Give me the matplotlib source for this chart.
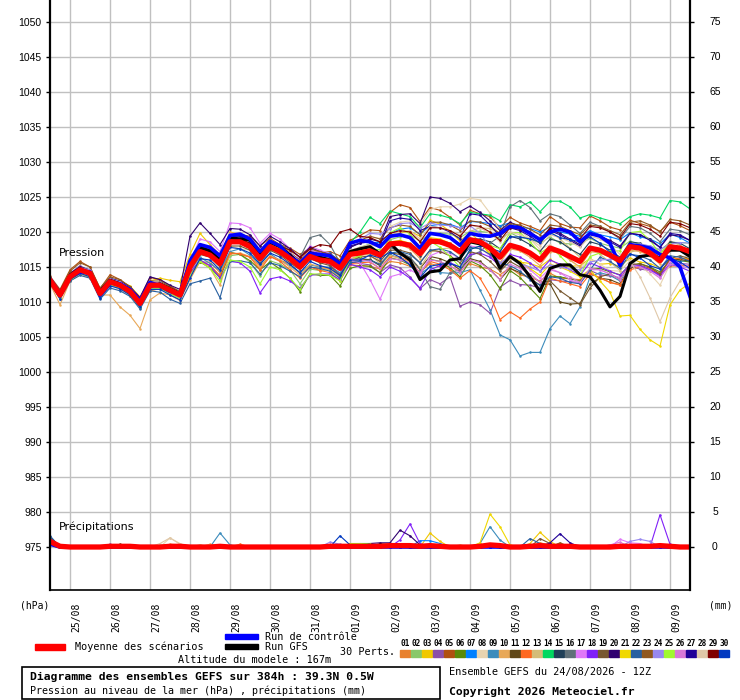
import numpy as np
import matplotlib
matplotlib.use('Agg')
import matplotlib.pyplot as plt
from matplotlib import transforms
from matplotlib.patches import Rectangle

# 6-hourly steps of the 384h run (24/08 12Z)
hours = np.arange(0, 385, 6)
day_labels = ['25/08', '26/08', '27/08', '28/08', '29/08', '30/08', '31/08', '01/09',
              '02/09', '03/09', '04/09', '05/09', '06/09', '07/09', '08/09', '09/09']
day_hours = np.arange(12, 384, 24)

mean_hpa = [1013.1, 1011.0, 1013.6, 1014.6, 1014.1, 1011.2, 1012.9, 1012.4, 1011.5, 1009.8, 1012.4, 1012.4, 1011.7, 1011.0,
            1015.0, 1017.2, 1016.7, 1015.5, 1018.6, 1018.6, 1017.9, 1016.2, 1017.9, 1017.2, 1016.2, 1015.0, 1016.5, 1016.0, 1015.8, 1014.8,
            1016.8, 1017.0, 1017.3, 1016.7, 1018.3, 1018.4, 1018.1, 1016.9, 1018.7, 1018.6, 1018.1, 1017.2, 1018.9, 1018.6, 1017.7, 1016.4,
            1018.1, 1017.7, 1017.0, 1016.0, 1017.7, 1017.2, 1016.5, 1015.8, 1017.7, 1017.4, 1016.7, 1015.9, 1017.9, 1017.7, 1017.0, 1015.9,
            1017.9, 1017.7, 1017.2]
control_hpa = [1013.3, 1011.1, 1013.5, 1014.3, 1014.3, 1011.0, 1012.7, 1012.6, 1011.8, 1010.2, 1012.8, 1012.3, 1011.5, 1011.2,
               1015.9, 1018.2, 1017.8, 1016.6, 1019.5, 1019.7, 1019.0, 1017.2, 1018.7, 1018.0, 1016.4, 1015.6, 1016.9, 1016.8, 1016.6, 1015.4,
               1018.4, 1018.8, 1018.6, 1017.9, 1019.4, 1019.6, 1019.2, 1017.7, 1019.8, 1019.6, 1019.2, 1018.1, 1019.8, 1019.5, 1019.4, 1019.8,
               1020.8, 1020.6, 1019.8, 1018.9, 1020.0, 1020.4, 1020.0, 1018.6, 1019.8, 1019.4, 1018.4, 1015.2, 1018.2, 1018.0, 1017.7, 1016.8,
               1016.3, 1015.0, 1010.8]
gfs_hpa = [1013.0, 1011.2, 1013.8, 1014.8, 1014.0, 1011.5, 1013.1, 1012.6, 1011.6, 1010.2, 1012.2, 1012.6, 1011.9, 1011.2,
           1015.6, 1017.8, 1017.3, 1016.0, 1019.2, 1019.0, 1018.9, 1016.8, 1018.5, 1017.9, 1016.7, 1015.4, 1017.0, 1016.4, 1016.0, 1015.3,
           1017.2, 1017.6, 1017.9, 1016.9, 1018.4, 1017.0, 1016.0, 1013.2, 1014.3, 1014.5, 1016.0, 1016.2, 1018.6, 1018.3, 1017.7, 1014.8,
           1016.5, 1015.5, 1013.6, 1011.5, 1014.8, 1015.3, 1015.3, 1013.9, 1013.6, 1011.7, 1009.3, 1010.8, 1015.5, 1016.5, 1016.7, 1016.3,
           1017.4, 1017.4, 1016.5]

pert01 = [1012.8, 1010.8, 1013.1, 1014.2, 1013.5, 1010.9, 1012.4, 1012.2, 1010.9, 1009.4, 1011.6, 1011.9, 1011.4, 1010.6,
          1013.8, 1015.7, 1015.7, 1014.2, 1017.0, 1016.8, 1016.4, 1015.2, 1016.5, 1016.0, 1015.4, 1014.0, 1015.0, 1014.7, 1014.8, 1013.6,
          1015.3, 1015.2, 1015.1, 1014.7, 1015.8, 1015.6, 1015.1, 1014.3, 1015.5, 1015.1, 1015.1, 1014.4, 1015.5, 1015.0, 1014.7, 1013.9,
          1014.9, 1013.9, 1013.5, 1013.0, 1014.1, 1013.4, 1013.3, 1013.2, 1014.2, 1013.4, 1012.8, 1012.4, 1014.9, 1015.1, 1014.8, 1013.9,
          1015.1, 1015.2, 1015.2]
pert02 = [1013.3, 1011.3, 1013.7, 1015.0, 1014.1, 1011.5, 1013.4, 1012.6, 1011.9, 1010.4, 1012.6, 1012.7, 1012.2, 1011.4,
          1014.2, 1016.0, 1015.2, 1013.7, 1016.6, 1016.8, 1015.7, 1013.7, 1015.9, 1015.4, 1014.6, 1012.6, 1014.7, 1014.5, 1014.6, 1013.8,
          1017.3, 1017.8, 1018.3, 1017.9, 1018.9, 1019.3, 1019.6, 1018.7, 1019.7, 1019.8, 1019.7, 1019.2, 1020.1, 1020.1, 1019.9, 1019.0,
          1019.9, 1019.2, 1019.0, 1018.4, 1019.3, 1018.4, 1018.3, 1018.3, 1019.1, 1018.4, 1018.0, 1017.7, 1018.7, 1018.2, 1018.0, 1017.4,
          1018.5, 1018.5, 1018.4]
pert03 = [1013.1, 1011.2, 1013.5, 1014.8, 1014.4, 1011.2, 1013.0, 1013.0, 1012.3, 1010.7, 1013.0, 1013.4, 1013.1, 1012.9,
          1016.8, 1019.8, 1018.2, 1016.7, 1020.0, 1019.6, 1018.7, 1017.4, 1018.4, 1018.0, 1017.2, 1015.6, 1016.8, 1016.5, 1016.6, 1015.2,
          1017.3, 1017.0, 1016.8, 1016.5, 1019.3, 1019.9, 1020.1, 1019.4, 1021.7, 1021.1, 1020.1, 1018.7, 1019.9, 1018.6, 1016.7, 1014.9,
          1016.3, 1015.7, 1015.5, 1015.0, 1016.1, 1015.2, 1015.1, 1015.2, 1016.2, 1015.4, 1015.5, 1015.1, 1016.3, 1015.7, 1015.5, 1014.9,
          1016.1, 1016.2, 1016.2]
pert04 = [1013.5, 1011.3, 1014.1, 1015.2, 1014.4, 1011.7, 1013.1, 1012.8, 1011.6, 1010.3, 1012.7, 1012.4, 1011.9, 1011.3,
          1014.5, 1017.0, 1016.7, 1015.9, 1018.9, 1019.4, 1018.4, 1016.2, 1018.5, 1017.5, 1016.0, 1015.2, 1016.2, 1016.0, 1015.3, 1014.0,
          1015.8, 1015.5, 1015.3, 1014.2, 1015.3, 1014.9, 1013.6, 1011.9, 1013.2, 1012.6, 1013.6, 1009.4, 1010.0, 1009.6, 1008.4, 1012.1,
          1013.1, 1012.5, 1012.4, 1012.0, 1013.2, 1013.0, 1012.9, 1012.8, 1014.5, 1013.9, 1013.7, 1013.5, 1015.1, 1014.7, 1014.5, 1013.9,
          1015.3, 1015.5, 1015.4]
pert05 = [1013.7, 1011.8, 1014.6, 1015.8, 1015.0, 1011.9, 1013.9, 1013.2, 1012.1, 1010.7, 1013.5, 1013.2, 1012.3, 1011.5,
          1015.5, 1018.0, 1017.7, 1016.7, 1019.4, 1019.6, 1019.4, 1018.0, 1019.1, 1018.2, 1017.7, 1016.8, 1017.7, 1017.0, 1017.2, 1016.6,
          1018.8, 1019.5, 1020.3, 1020.2, 1022.8, 1023.9, 1023.5, 1021.5, 1023.5, 1023.1, 1022.1, 1021.0, 1023.1, 1022.6, 1022.2, 1020.6,
          1022.1, 1021.3, 1020.8, 1020.2, 1022.2, 1021.2, 1020.7, 1020.6, 1022.3, 1021.6, 1020.7, 1020.3, 1021.7, 1021.2, 1020.8, 1020.1,
          1021.4, 1020.9, 1020.2]
pert06 = [1012.9, 1010.6, 1013.3, 1014.0, 1013.9, 1010.7, 1012.6, 1012.0, 1011.3, 1009.2, 1012.0, 1012.2, 1011.2, 1010.7,
          1014.0, 1015.7, 1014.9, 1013.5, 1017.1, 1016.8, 1015.9, 1014.6, 1015.7, 1014.7, 1013.4, 1011.5, 1014.0, 1013.8, 1013.8, 1012.3,
          1014.8, 1015.2, 1015.1, 1014.2, 1016.3, 1016.0, 1015.3, 1013.9, 1016.1, 1015.8, 1014.9, 1013.6, 1015.9, 1015.2, 1013.9, 1011.9,
          1014.5, 1013.5, 1012.0, 1010.5, 1013.7, 1013.6, 1013.3, 1013.0, 1014.7, 1014.8, 1014.3, 1013.9, 1015.3, 1015.5, 1015.0, 1014.3,
          1015.9, 1015.9, 1015.7]
pert07 = [1013.1, 1011.2, 1013.4, 1014.6, 1014.3, 1011.1, 1012.9, 1012.6, 1011.4, 1009.9, 1012.4, 1012.2, 1011.7, 1011.1,
          1015.2, 1017.7, 1017.5, 1016.1, 1019.6, 1019.4, 1018.4, 1017.1, 1018.5, 1017.6, 1017.0, 1016.0, 1017.0, 1016.8, 1017.0, 1015.8,
          1017.8, 1018.5, 1018.5, 1018.5, 1019.8, 1020.4, 1020.6, 1019.7, 1020.9, 1021.1, 1021.1, 1020.6, 1021.5, 1021.4, 1021.2, 1020.9,
          1021.3, 1020.7, 1020.5, 1020.0, 1020.7, 1020.0, 1019.7, 1019.4, 1020.2, 1019.6, 1019.3, 1018.9, 1019.9, 1019.3, 1019.0, 1018.3,
          1019.7, 1019.2, 1018.4]
pert08 = [1012.7, 1010.8, 1013.0, 1014.1, 1013.8, 1010.6, 1012.5, 1011.7, 1011.0, 1009.5, 1011.8, 1012.0, 1011.1, 1010.5,
          1014.5, 1016.2, 1015.9, 1015.1, 1018.0, 1017.6, 1017.4, 1016.2, 1017.6, 1016.6, 1016.0, 1015.3, 1016.3, 1016.0, 1016.2, 1015.6,
          1017.8, 1018.5, 1019.3, 1019.1, 1020.8, 1021.4, 1021.6, 1020.9, 1023.2, 1023.6, 1023.6, 1024.0, 1024.8, 1024.6, 1022.7, 1020.2,
          1021.1, 1020.2, 1019.0, 1017.5, 1018.2, 1017.2, 1016.0, 1014.8, 1016.2, 1015.4, 1014.5, 1014.4, 1015.9, 1015.2, 1014.0, 1012.4,
          1015.4, 1016.2, 1016.7]
pert09 = [1012.8, 1010.5, 1013.4, 1014.2, 1013.5, 1010.9, 1012.7, 1011.9, 1011.2, 1009.7, 1012.0, 1012.1, 1011.2, 1010.8,
          1014.5, 1016.4, 1015.5, 1014.5, 1017.2, 1017.6, 1016.7, 1015.4, 1016.9, 1015.9, 1015.2, 1014.2, 1015.3, 1015.0, 1015.0, 1014.2,
          1016.0, 1016.3, 1016.0, 1015.2, 1016.8, 1016.2, 1015.5, 1014.0, 1015.0, 1014.2, 1014.1, 1014.2, 1014.6, 1011.7, 1008.9, 1005.3,
          1004.6, 1002.3, 1002.8, 1002.8, 1006.2, 1008.0, 1006.9, 1009.3, 1013.6, 1014.2, 1013.8, 1013.0, 1015.2, 1015.0, 1014.6, 1013.8,
          1015.5, 1015.8, 1016.0]
pert10 = [1012.6, 1009.6, 1013.0, 1014.0, 1013.5, 1011.0, 1011.0, 1009.3, 1008.1, 1006.2, 1010.3, 1011.3, 1011.0, 1010.2,
          1013.2, 1015.8, 1014.8, 1012.4, 1016.8, 1017.0, 1016.5, 1014.9, 1016.6, 1016.0, 1015.0, 1013.8, 1015.4, 1015.1, 1014.6, 1013.4,
          1016.2, 1016.6, 1016.9, 1016.0, 1017.9, 1018.2, 1017.6, 1016.2, 1018.4, 1018.5, 1017.8, 1016.7, 1018.6, 1018.5, 1017.4, 1015.6,
          1017.6, 1017.3, 1016.4, 1015.2, 1017.2, 1017.0, 1016.0, 1015.0, 1017.2, 1017.0, 1016.4, 1015.4, 1017.4, 1017.2, 1016.6, 1015.4,
          1017.5, 1017.6, 1017.0]
pert11 = [1013.4, 1011.2, 1013.9, 1014.8, 1014.5, 1011.4, 1013.3, 1012.7, 1011.8, 1010.0, 1012.7, 1012.8, 1011.9, 1011.3,
          1015.0, 1017.0, 1016.8, 1015.8, 1018.5, 1018.8, 1018.2, 1016.5, 1018.0, 1017.4, 1016.4, 1015.2, 1016.8, 1016.2, 1015.9, 1014.9,
          1016.0, 1016.0, 1016.1, 1015.2, 1017.0, 1016.8, 1016.3, 1014.8, 1016.5, 1016.2, 1015.6, 1014.6, 1016.2, 1015.8, 1014.6, 1013.2,
          1014.8, 1014.2, 1013.4, 1012.4, 1012.6, 1010.0, 1009.7, 1009.8, 1012.6, 1013.4, 1013.2, 1012.6, 1014.9, 1015.2, 1014.8, 1013.8,
          1016.0, 1016.1, 1015.8]
pert12 = [1013.0, 1011.1, 1013.4, 1014.5, 1014.0, 1011.0, 1012.8, 1012.3, 1011.3, 1009.6, 1012.2, 1012.2, 1011.5, 1010.8,
          1014.0, 1015.8, 1015.2, 1013.8, 1017.0, 1016.9, 1016.4, 1014.6, 1016.5, 1015.8, 1014.6, 1013.4, 1015.0, 1014.5, 1014.2, 1013.0,
          1015.5, 1015.6, 1015.7, 1014.8, 1016.5, 1016.4, 1015.8, 1014.2, 1015.8, 1015.4, 1014.6, 1013.4, 1014.5, 1013.4, 1011.0, 1007.5,
          1008.6, 1007.7, 1009.0, 1010.0, 1013.4, 1013.0, 1012.6, 1012.2, 1014.0, 1013.5, 1012.8, 1012.5, 1014.6, 1015.0, 1014.8, 1014.0,
          1016.0, 1016.3, 1016.0]
pert13 = [1013.2, 1011.1, 1013.7, 1014.7, 1014.2, 1011.3, 1013.0, 1012.5, 1011.7, 1009.9, 1012.6, 1012.5, 1011.8, 1011.2,
          1015.4, 1017.7, 1017.1, 1015.9, 1019.0, 1019.1, 1018.3, 1016.7, 1018.4, 1017.6, 1016.6, 1015.4, 1017.0, 1016.5, 1016.3, 1015.3,
          1017.3, 1017.0, 1016.7, 1015.5, 1016.7, 1016.2, 1015.7, 1014.9, 1017.1, 1017.6, 1017.7, 1017.6, 1020.1, 1020.6, 1020.5, 1019.8,
          1021.1, 1020.3, 1019.8, 1019.2, 1020.1, 1019.0, 1017.7, 1016.4, 1017.7, 1016.8, 1015.7, 1014.5, 1017.1, 1017.5, 1017.4, 1016.9,
          1018.7, 1018.1, 1017.2]
pert14 = [1013.3, 1011.2, 1013.9, 1014.9, 1014.4, 1011.5, 1013.2, 1012.7, 1011.8, 1010.1, 1012.7, 1012.7, 1012.0, 1011.3,
          1015.4, 1017.6, 1017.2, 1016.0, 1019.0, 1019.2, 1018.4, 1016.8, 1018.5, 1017.8, 1016.8, 1015.6, 1017.2, 1016.6, 1016.6, 1015.8,
          1018.4, 1020.0, 1022.1, 1021.2, 1023.0, 1022.6, 1022.2, 1020.6, 1022.6, 1022.4, 1022.0, 1021.2, 1022.8, 1022.6, 1022.4, 1021.6,
          1023.9, 1023.6, 1024.3, 1022.9, 1024.4, 1024.4, 1023.6, 1022.0, 1022.5, 1022.0, 1021.6, 1021.2, 1022.2, 1022.6, 1022.4, 1022.0,
          1024.5, 1024.3, 1023.3]
pert15 = [1013.0, 1010.9, 1013.7, 1014.6, 1014.0, 1011.3, 1012.9, 1012.5, 1011.5, 1009.9, 1012.5, 1012.3, 1011.8, 1011.0,
          1016.0, 1018.2, 1017.7, 1016.4, 1019.6, 1019.5, 1018.8, 1017.2, 1018.8, 1018.0, 1017.0, 1015.8, 1017.4, 1016.9, 1016.7, 1015.6,
          1017.0, 1017.4, 1017.5, 1016.8, 1018.5, 1018.6, 1018.0, 1016.6, 1018.5, 1018.8, 1018.4, 1017.2, 1019.0, 1019.0, 1018.6, 1017.6,
          1019.4, 1019.0, 1018.2, 1017.2, 1019.0, 1018.6, 1017.6, 1016.8, 1018.6, 1018.2, 1017.4, 1016.4, 1018.6, 1018.4, 1017.6, 1016.2,
          1018.6, 1018.4, 1017.6]
pert16 = [1013.1, 1011.0, 1013.5, 1014.4, 1014.0, 1011.2, 1012.8, 1012.4, 1011.4, 1009.8, 1012.3, 1012.4, 1011.6, 1011.0,
          1015.4, 1017.8, 1017.5, 1016.3, 1019.4, 1019.4, 1018.9, 1017.4, 1018.8, 1018.2, 1017.4, 1016.4, 1019.2, 1019.6, 1018.2, 1015.6,
          1017.4, 1017.6, 1017.8, 1016.8, 1017.8, 1017.2, 1016.4, 1014.6, 1012.2, 1011.8, 1014.2, 1014.6, 1016.6, 1017.2, 1018.4, 1019.4,
          1023.6, 1024.5, 1023.5, 1021.6, 1022.6, 1022.2, 1021.0, 1019.8, 1021.4, 1020.8, 1020.0, 1019.0, 1020.8, 1020.6, 1019.8, 1018.6,
          1020.4, 1020.2, 1019.6]
pert17 = [1012.8, 1010.6, 1013.2, 1014.2, 1013.8, 1010.9, 1012.6, 1012.1, 1011.2, 1009.4, 1012.0, 1012.1, 1011.4, 1010.7,
          1015.8, 1019.0, 1018.6, 1017.2, 1021.3, 1021.2, 1020.6, 1018.4, 1019.8, 1019.0, 1017.6, 1016.2, 1018.0, 1017.4, 1016.9, 1015.6,
          1016.0, 1015.6, 1013.2, 1010.4, 1013.6, 1014.0, 1014.6, 1013.8, 1016.6, 1017.2, 1017.0, 1016.2, 1018.0, 1017.8, 1016.6, 1015.0,
          1016.4, 1015.6, 1014.6, 1013.4, 1014.8, 1014.2, 1013.2, 1012.6, 1014.6, 1014.6, 1014.0, 1013.4, 1015.4, 1015.2, 1014.6, 1013.6,
          1015.8, 1015.6, 1015.0]
pert18 = [1012.9, 1010.7, 1013.3, 1014.3, 1013.7, 1010.8, 1012.5, 1012.0, 1011.1, 1009.3, 1011.9, 1012.0, 1011.3, 1010.6,
          1014.2, 1016.0, 1015.2, 1013.4, 1015.8, 1015.6, 1014.4, 1011.3, 1013.3, 1013.6, 1013.0, 1012.0, 1013.8, 1014.0, 1014.0, 1013.2,
          1015.4, 1015.0, 1014.6, 1013.6, 1015.0, 1014.4, 1013.4, 1012.0, 1014.6, 1015.2, 1015.6, 1015.0, 1016.8, 1017.0, 1016.4, 1015.2,
          1016.8, 1016.4, 1015.6, 1014.4, 1016.0, 1015.4, 1014.6, 1013.8, 1015.6, 1015.0, 1014.4, 1013.8, 1015.4, 1015.2, 1014.6, 1013.8,
          1015.4, 1015.0, 1014.4]
pert19 = [1013.5, 1011.4, 1013.9, 1015.0, 1014.5, 1011.6, 1013.2, 1012.8, 1011.9, 1010.2, 1012.8, 1012.6, 1011.9, 1011.3,
          1014.6, 1016.8, 1016.4, 1015.0, 1018.0, 1018.0, 1017.4, 1015.6, 1017.4, 1016.7, 1015.6, 1014.6, 1016.2, 1015.6, 1015.2, 1013.8,
          1016.0, 1016.4, 1016.6, 1015.8, 1017.4, 1017.4, 1017.0, 1015.6, 1017.4, 1017.2, 1016.6, 1015.6, 1017.2, 1016.8, 1015.8, 1014.4,
          1015.8, 1015.0, 1014.0, 1012.8, 1013.0, 1011.6, 1010.6, 1009.6, 1012.0, 1013.6, 1014.0, 1013.2, 1015.4, 1015.4, 1015.0, 1014.0,
          1016.2, 1016.6, 1016.2]
pert20 = [1013.5, 1011.6, 1014.1, 1015.0, 1014.6, 1011.8, 1013.4, 1013.0, 1012.2, 1010.6, 1013.6, 1013.2, 1012.4, 1011.8,
          1019.4, 1021.3, 1019.8, 1018.2, 1020.5, 1020.4, 1019.6, 1018.0, 1019.4, 1018.6, 1017.6, 1016.4, 1017.8, 1017.2, 1016.8, 1015.8,
          1017.8, 1018.4, 1019.0, 1018.6, 1022.2, 1022.5, 1022.6, 1021.2, 1025.0, 1024.8, 1024.1, 1022.9, 1023.7, 1022.8, 1021.6, 1020.2,
          1021.4, 1020.8, 1020.0, 1019.0, 1020.4, 1019.8, 1019.0, 1018.2, 1019.6, 1019.4, 1018.8, 1018.0, 1019.8, 1019.6, 1019.0, 1017.8,
          1019.6, 1019.4, 1018.8]
pert21 = [1013.2, 1011.1, 1013.5, 1014.5, 1014.2, 1011.3, 1012.9, 1012.5, 1011.6, 1009.9, 1012.5, 1012.6, 1011.9, 1011.2,
          1015.6, 1018.0, 1017.4, 1016.0, 1019.2, 1019.2, 1018.4, 1016.8, 1018.4, 1017.6, 1016.6, 1015.4, 1017.0, 1016.6, 1016.2, 1015.2,
          1017.2, 1017.4, 1017.6, 1016.8, 1018.6, 1018.8, 1018.4, 1017.0, 1019.2, 1019.0, 1018.4, 1017.4, 1019.0, 1018.4, 1017.0, 1015.2,
          1016.6, 1015.8, 1014.8, 1013.8, 1015.4, 1015.0, 1014.4, 1013.6, 1014.6, 1013.0, 1011.4, 1008.0, 1008.1, 1006.1, 1004.6, 1003.7,
          1009.6, 1011.7, 1012.7]
pert22 = [1012.8, 1010.4, 1013.0, 1013.8, 1013.4, 1010.4, 1012.0, 1011.6, 1010.8, 1009.0, 1011.6, 1011.4, 1010.4, 1009.8,
          1012.6, 1013.0, 1013.4, 1010.6, 1015.8, 1015.9, 1015.6, 1014.0, 1015.6, 1015.2, 1014.4, 1013.6, 1015.0, 1014.8, 1014.4, 1013.4,
          1015.6, 1015.8, 1016.0, 1015.4, 1017.0, 1017.2, 1016.8, 1015.6, 1017.4, 1017.6, 1017.2, 1016.2, 1017.8, 1017.6, 1016.8, 1015.6,
          1015.2, 1014.4, 1013.2, 1012.4, 1013.6, 1013.4, 1012.8, 1012.6, 1014.6, 1016.4, 1015.8, 1014.8, 1016.8, 1016.6, 1016.0, 1014.8,
          1016.6, 1016.4, 1015.8]
pert23 = [1013.4, 1011.6, 1014.4, 1015.6, 1015.0, 1012.0, 1013.6, 1013.2, 1012.2, 1010.4, 1013.0, 1013.0, 1012.2, 1011.4,
          1015.2, 1017.4, 1017.2, 1016.0, 1019.0, 1019.0, 1018.4, 1016.8, 1018.6, 1018.0, 1017.0, 1016.0, 1017.6, 1017.2, 1016.8, 1016.0,
          1018.4, 1018.8, 1019.4, 1019.0, 1020.6, 1021.0, 1020.8, 1019.6, 1021.4, 1021.4, 1021.0, 1020.2, 1021.6, 1021.4, 1020.8, 1019.8,
          1021.2, 1021.0, 1020.4, 1019.6, 1021.0, 1020.8, 1020.2, 1019.6, 1021.0, 1020.8, 1020.2, 1019.6, 1021.4, 1021.6, 1021.0, 1020.0,
          1021.8, 1021.6, 1021.0]
pert24 = [1013.5, 1011.3, 1013.9, 1014.9, 1014.6, 1011.6, 1013.3, 1012.9, 1011.9, 1010.2, 1012.8, 1012.8, 1012.0, 1011.4,
          1015.6, 1017.8, 1017.4, 1016.2, 1019.2, 1019.2, 1018.6, 1016.8, 1018.4, 1017.8, 1016.8, 1015.6, 1017.2, 1016.6, 1016.4, 1015.4,
          1018.3, 1019.0, 1019.8, 1019.7, 1020.5, 1021.2, 1021.3, 1020.5, 1021.3, 1021.0, 1020.9, 1020.6, 1020.9, 1019.8, 1017.9, 1015.6,
          1016.5, 1015.5, 1015.0, 1014.4, 1015.3, 1015.0, 1014.7, 1014.6, 1015.7, 1016.0, 1016.1, 1016.1, 1017.7, 1018.3, 1018.0, 1017.5,
          1018.3, 1018.5, 1018.4]
pert25 = [1012.7, 1010.6, 1013.1, 1014.1, 1013.6, 1010.8, 1012.5, 1012.0, 1011.0, 1009.3, 1011.9, 1011.9, 1011.2, 1010.5,
          1013.8, 1015.8, 1014.8, 1013.0, 1016.0, 1015.8, 1015.0, 1012.6, 1015.0, 1014.6, 1013.4, 1011.8, 1014.0, 1014.0, 1013.8, 1013.0,
          1016.0, 1016.6, 1017.5, 1017.5, 1019.9, 1020.6, 1019.7, 1017.7, 1018.7, 1017.8, 1016.5, 1015.0, 1017.5, 1018.0, 1018.1, 1017.6,
          1019.9, 1019.9, 1018.6, 1017.0, 1017.9, 1016.6, 1015.1, 1013.8, 1016.5, 1017.0, 1017.3, 1017.3, 1019.9, 1020.1, 1018.8, 1016.9,
          1018.3, 1017.5, 1016.4]
pert26 = [1013.1, 1011.0, 1013.8, 1014.8, 1014.2, 1011.1, 1012.9, 1012.4, 1011.6, 1009.8, 1012.4, 1012.5, 1011.8, 1011.1,
          1016.0, 1018.2, 1017.8, 1016.6, 1019.8, 1019.8, 1019.0, 1017.2, 1018.8, 1018.0, 1017.0, 1015.8, 1017.4, 1017.0, 1016.6, 1015.4,
          1016.2, 1016.0, 1015.8, 1014.8, 1016.2, 1016.0, 1015.6, 1014.2, 1016.0, 1015.8, 1015.2, 1014.2, 1016.0, 1015.6, 1014.6, 1013.2,
          1015.4, 1014.8, 1014.0, 1012.8, 1014.6, 1014.2, 1013.6, 1012.8, 1014.8, 1014.6, 1014.0, 1013.2, 1015.2, 1015.0, 1014.4, 1013.4,
          1015.4, 1015.2, 1014.8]
pert27 = [1013.3, 1011.3, 1013.8, 1014.7, 1014.3, 1011.4, 1013.2, 1012.6, 1011.8, 1010.0, 1012.6, 1012.6, 1011.9, 1011.2,
          1015.6, 1018.0, 1017.4, 1016.0, 1019.4, 1019.4, 1018.6, 1017.0, 1018.6, 1017.9, 1016.8, 1015.6, 1017.2, 1016.8, 1016.4, 1015.4,
          1018.0, 1018.4, 1018.6, 1018.2, 1021.6, 1022.0, 1021.8, 1020.2, 1020.8, 1020.6, 1020.0, 1019.0, 1022.6, 1022.4, 1021.0, 1019.4,
          1020.6, 1020.2, 1019.4, 1018.4, 1020.2, 1019.6, 1018.8, 1018.0, 1019.8, 1019.4, 1018.6, 1017.8, 1019.8, 1019.6, 1018.8, 1017.8,
          1019.8, 1019.6, 1018.8]
pert28 = [1012.9, 1010.9, 1013.4, 1014.5, 1013.9, 1011.0, 1012.7, 1012.2, 1011.3, 1009.7, 1012.2, 1012.3, 1011.5, 1010.9,
          1014.8, 1017.0, 1016.6, 1015.4, 1018.4, 1018.4, 1017.8, 1016.2, 1017.8, 1017.2, 1016.2, 1015.0, 1016.6, 1016.0, 1015.8, 1014.8,
          1017.4, 1017.8, 1018.2, 1017.8, 1019.6, 1020.0, 1020.2, 1019.0, 1020.8, 1020.6, 1020.2, 1019.6, 1021.0, 1020.6, 1019.8, 1018.6,
          1020.0, 1019.6, 1019.0, 1018.0, 1019.6, 1019.2, 1018.6, 1017.8, 1019.4, 1019.0, 1018.2, 1016.8, 1015.8, 1013.6, 1010.6, 1007.2,
          1010.6, 1013.0, 1014.6]
pert29 = [1013.2, 1011.1, 1013.7, 1014.6, 1014.2, 1011.3, 1013.0, 1012.5, 1011.6, 1009.9, 1012.5, 1012.5, 1011.8, 1011.1,
          1015.4, 1017.6, 1017.2, 1016.0, 1019.0, 1019.0, 1018.4, 1016.8, 1018.6, 1018.0, 1017.4, 1016.4, 1017.6, 1018.2, 1018.0, 1020.0,
          1020.4, 1019.4, 1019.2, 1018.6, 1019.8, 1020.2, 1020.0, 1018.6, 1020.6, 1020.6, 1020.2, 1019.4, 1021.0, 1020.8, 1020.0, 1018.8,
          1020.6, 1020.4, 1019.8, 1018.8, 1020.6, 1020.4, 1019.8, 1019.0, 1020.8, 1020.6, 1020.0, 1019.2, 1021.2, 1021.0, 1020.4, 1019.4,
          1021.4, 1021.2, 1020.6]
pert30 = [1012.7, 1010.5, 1013.2, 1014.1, 1013.6, 1010.6, 1012.3, 1011.9, 1011.0, 1009.3, 1011.8, 1011.8, 1011.0, 1010.3,
          1013.4, 1016.2, 1016.0, 1014.6, 1017.8, 1017.6, 1017.0, 1015.4, 1017.0, 1016.4, 1015.4, 1014.2, 1015.8, 1015.2, 1014.8, 1013.8,
          1016.0, 1016.0, 1016.7, 1016.3, 1017.1, 1016.4, 1015.3, 1013.5, 1015.1, 1015.4, 1015.5, 1015.0, 1017.5, 1018.0, 1017.7, 1017.2,
          1019.3, 1019.3, 1019.0, 1018.6, 1019.9, 1019.2, 1018.9, 1018.6, 1019.3, 1018.4, 1017.1, 1015.5, 1016.9, 1016.3, 1015.2, 1014.7,
          1016.3, 1015.7, 1014.8]

# precipitation (mm), only the non-zero steps (step index: mm)
mean_rain = {0: 0.8, 1: 0.1, 6: 0.1, 7: 0.1, 8: 0.1, 12: 0.1, 13: 0.1, 17: 0.1, 28: 0.1, 29: 0.1, 30: 0.1,
             31: 0.1, 32: 0.1, 33: 0.1, 34: 0.2, 35: 0.2, 36: 0.2, 37: 0.1, 38: 0.2, 39: 0.1, 43: 0.1, 44: 0.3,
             45: 0.2, 48: 0.1, 49: 0.2, 50: 0.1, 51: 0.1, 52: 0.1, 57: 0.1, 58: 0.1, 59: 0.1, 60: 0.1, 61: 0.2, 62: 0.1}
control_rain = {0: 0.4}
gfs_rain = {0: 0.5, 33: 0.3, 34: 0.2, 35: 0.3, 44: 0.2, 61: 0.2}
rain01 = {0: 0.5, 37: 0.3, 49: 0.6, 50: 0.3}
rain02 = {0: 0.4, 31: 0.4, 32: 0.3}
rain03 = {0: 0.6, 38: 2.0, 39: 0.8, 48: 0.5, 49: 2.1, 50: 0.8}
rain04 = {0: 0.3, 6: 0.4, 56: 0.3}
rain05 = {0: 0.8, 7: 0.3, 51: 0.5}
rain06 = {0: 0.5, 8: 0.3, 30: 0.4, 31: 0.3}
rain07 = {0: 0.6, 37: 0.9, 38: 0.9, 39: 0.5}
rain08 = {0: 0.4, 12: 1.3, 13: 0.5, 15: 0.3, 32: 0.4}
rain09 = {0: 1.2, 17: 2.0, 18: 0.3, 43: 0.5, 44: 2.9, 45: 1.0}
rain10 = {0: 0.7, 12: 0.4, 13: 0.3, 16: 0.4, 33: 0.3}
rain11 = {0: 1.0, 7: 0.4, 52: 0.3}
rain12 = {0: 0.5, 19: 0.4, 50: 0.4}
rain13 = {0: 0.6, 15: 0.3, 29: 0.4, 41: 0.3}
rain14 = {0: 0.8, 31: 0.5, 32: 0.5}
rain15 = {0: 1.5, 38: 0.3}
rain16 = {0: 0.6, 53: 0.2}
rain17 = {0: 0.4, 57: 1.1, 58: 0.6, 59: 0.5, 62: 0.3}
rain18 = {0: 0.4, 35: 1.0, 36: 3.3, 37: 0.5, 61: 4.6, 62: 0.4}
rain19 = {0: 0.7, 49: 1.2, 50: 0.5}
rain20 = {0: 0.5, 32: 0.5, 33: 0.6, 34: 0.6, 35: 2.4, 36: 1.6, 37: 0.3}
rain21 = {0: 0.6, 43: 0.6, 44: 4.7, 45: 2.9, 46: 0.3}
rain22 = {0: 1.6, 48: 1.2, 49: 0.5}
rain23 = {0: 0.6, 7: 0.3, 49: 0.4, 51: 0.6}
rain24 = {0: 0.5, 28: 0.7, 29: 0.4, 58: 0.8, 59: 1.1, 60: 0.8}
rain25 = {0: 0.4, 30: 0.5, 31: 0.5, 32: 0.4}
rain26 = {0: 0.5, 56: 0.3, 57: 0.7}
rain27 = {0: 0.7, 50: 0.6, 51: 1.9, 52: 0.6}
rain28 = {0: 0.5, 11: 0.5, 12: 1.3, 13: 0.4, 31: 0.3}
rain29 = {0: 0.6, 8: 0.3, 62: 0.2}
rain30 = {0: 0.9, 29: 1.6, 30: 0.3}

pert_colors = ['#e8812e', '#88c86a', '#f0c800', '#8c50a8', '#b05010', '#5a8a08', '#0080ff', '#e8d4b0',
               '#3c8cbc', '#e8a858', '#604818', '#ff6820', '#d4bc78', '#00d860', '#204058', '#607078',
               '#e078f8', '#8020f8', '#785830', '#300070', '#f0d800', '#2860a0', '#905820', '#9888f0',
               '#a0f830', '#d878d8', '#200098', '#e0c8a8', '#800000', '#0038c0']

perts = [pert01, pert02, pert03, pert04, pert05, pert06, pert07, pert08, pert09, pert10,
         pert11, pert12, pert13, pert14, pert15, pert16, pert17, pert18, pert19, pert20,
         pert21, pert22, pert23, pert24, pert25, pert26, pert27, pert28, pert29, pert30]
rains = [rain01, rain02, rain03, rain04, rain05, rain06, rain07, rain08, rain09, rain10,
         rain11, rain12, rain13, rain14, rain15, rain16, rain17, rain18, rain19, rain20,
         rain21, rain22, rain23, rain24, rain25, rain26, rain27, rain28, rain29, rain30]

for p in perts + [mean_hpa, control_hpa, gfs_hpa]:
    assert len(p) == len(hours), len(p)


def rain_series(d):
    r = np.zeros(len(hours))
    for k, v in d.items():
        r[k] = v
    return 975 + r   # precip drawn on the 975 hPa = 0 mm line


W, H = 740, 700
def fx(x):
    return x / W
def fy(y):
    return 1 - y / H

mono = 'DejaVu Sans Mono'

fig = plt.figure(figsize=(7.4, 7.0), dpi=100)
ax = fig.add_axes([50 / W, 110 / H, 640 / W, 590 / H])
ax.set_xlim(0, 384)
ax.set_ylim(975 - 43 / 7, 975 + 547 / 7)

ax.set_xticks(day_hours)
ax.set_xticklabels([])
ax.tick_params(axis='x', length=0)
yt = np.arange(975, 1051, 5)
ax.set_yticks(yt)
ax.set_yticklabels([str(v) for v in yt], fontsize=7.5, family='Liberation Sans')
ax.tick_params(axis='y', direction='out', length=3, width=1, pad=3, right=True)
ax.grid(color='#c0c0c0', lw=1)
ax.set_axisbelow(True)
ax.spines['top'].set_visible(False)
ax.spines['left'].set_linewidth(1.6)
ax.spines['right'].set_linewidth(1.6)
ax.spines['bottom'].set_linewidth(1.2)

# right axis labels in mm (0 mm at 975 hPa)
tr_r = transforms.blended_transform_factory(ax.transAxes, ax.transData)
for v in yt:
    ax.text((715 - 50) / 640, v, str(v - 975), transform=tr_r, ha='center', va='center',
            fontsize=7.5, family='Liberation Sans')

# date labels
tr_x = transforms.blended_transform_factory(ax.transData, ax.transAxes)
for h, lab in zip(day_hours, day_labels):
    ax.text(h + 3.8, -0.021, lab, transform=tr_x, rotation=90, ha='center', va='top',
            fontsize=7, family=mono)

for p, r, c in zip(perts, rains, pert_colors):
    ax.plot(hours, p, color=c, lw=0.8, marker='o', ms=1.8, mew=0)
    ax.plot(hours, rain_series(r), color=c, lw=0.8, marker='o', ms=1.8, mew=0)

ax.plot(hours, gfs_hpa, color='black', lw=2.2)
ax.plot(hours, rain_series(gfs_rain), color='black', lw=2.2)
ax.plot(hours, control_hpa, color='#0000ff', lw=2.6)
ax.plot(hours, rain_series(control_rain), color='#0000ff', lw=2.6)
ax.plot(hours, mean_hpa, color='#ff0000', lw=3.8)
ax.plot(hours, rain_series(mean_rain), color='#ff0000', lw=3.8)

ax.text(5.4, 1017.0, 'Pression', fontsize=8, va='center', ha='left')
ax.text(5.4, 977.9, 'Précipitations', fontsize=8, va='center', ha='left')

# texts and legend under the plot
fig.text(fx(20), fy(606), '(hPa)', fontsize=7, family=mono, va='center')
fig.text(fx(709), fy(606), '(mm)', fontsize=7, family=mono, va='center')

fig.add_artist(Rectangle((fx(35), fy(650)), 30 / W, 6 / H, color='#ff0000', transform=fig.transFigure))
fig.text(fx(75), fy(647), 'Moyenne des scénarios', fontsize=7.3, family=mono, va='center')
fig.add_artist(Rectangle((fx(225), fy(639)), 33 / W, 5 / H, color='#0000ff', transform=fig.transFigure))
fig.text(fx(265), fy(637), 'Run de contrôle', fontsize=7.3, family=mono, va='center')
fig.add_artist(Rectangle((fx(225), fy(649)), 33 / W, 5 / H, color='black', transform=fig.transFigure))
fig.text(fx(265), fy(647), 'Run GFS', fontsize=7.3, family=mono, va='center')
fig.text(fx(255), fy(660), 'Altitude du modele : 167m', fontsize=7.3, family=mono, va='center', ha='center')
fig.text(fx(340), fy(652), '30 Perts.', fontsize=7.3, family=mono, va='center')

for i, c in enumerate(pert_colors):
    x0 = 400 + 11 * i
    fig.add_artist(Rectangle((fx(x0), fy(657)), 10 / W, 7 / H, color=c, transform=fig.transFigure))
    fig.text(fx(x0 + 5), fy(643), '%02d' % (i + 1), fontsize=5.6, family=mono, weight='bold',
             ha='center', va='center')

fig.add_artist(Rectangle((fx(22), fy(699)), 418 / W, 32 / H, fill=False, ec='black', lw=1.2,
                         transform=fig.transFigure))
fig.text(fx(30), fy(677), 'Diagramme des ensembles GEFS sur 384h : 39.3N 0.5W', fontsize=8.2,
         family=mono, weight='bold', va='center')
fig.text(fx(30), fy(691), 'Pression au niveau de la mer (hPa) , précipitations (mm)', fontsize=7.2,
         family=mono, va='center')
fig.text(fx(449), fy(672), 'Ensemble GEFS du 24/08/2026 - 12Z', fontsize=7.4, family=mono, va='center')
fig.text(fx(449), fy(692), 'Copyright 2026 Meteociel.fr', fontsize=8.2, family=mono, weight='bold',
         va='center')

fig.savefig('out.png', dpi=100)
